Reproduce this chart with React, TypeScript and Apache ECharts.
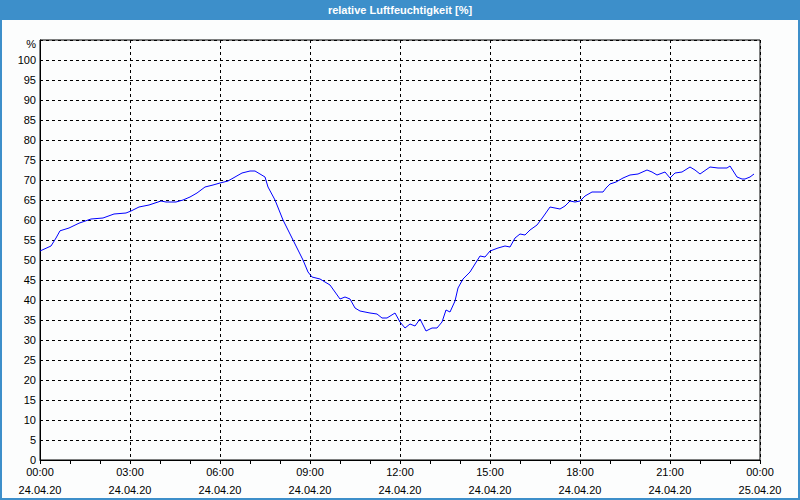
import React, { useEffect, useRef } from "react";
import * as echarts from "echarts";

const times = [
  "00:00", "00:22", "00:32", "00:40", "00:58", "01:18", "01:42", "02:06", "02:28", "02:52",
  "03:02", "03:18", "03:38", "04:02", "04:12", "04:32", "04:46", "05:00", "05:14", "05:30",
  "05:46", "06:00", "06:16", "06:30", "06:44", "07:00", "07:10", "07:20", "07:30", "07:36",
  "07:50", "08:06", "08:26", "08:46", "08:56", "09:04", "09:20", "09:40", "09:50", "10:00",
  "10:10", "10:20", "10:30", "10:40", "11:00", "11:14", "11:24", "11:34", "11:50", "12:00",
  "12:10", "12:20", "12:30", "12:40", "12:52", "13:04", "13:14", "13:24", "13:32", "13:40",
  "13:50", "13:56", "14:06", "14:20", "14:40", "14:50", "15:00", "15:16", "15:30", "15:40",
  "15:50", "16:00", "16:10", "16:20", "16:34", "16:46", "17:00", "17:10", "17:20", "17:30",
  "17:40", "17:50", "18:00", "18:10", "18:24", "18:46", "18:52", "19:00", "19:12", "19:26",
  "19:40", "19:56", "20:14", "20:24", "20:34", "20:50", "21:00", "21:10", "21:24", "21:40",
  "21:50", "22:00", "22:20", "22:36", "22:54", "23:00", "23:14", "23:24", "23:30", "23:40",
  "23:48"
];

const humidity = [
  52.25, 53.5, 55.5, 57.3, 58, 59.2, 60.25, 60.5, 61.5, 61.75,
  62.25, 63.25, 63.75, 64.75, 64.5, 64.5, 65, 65.75, 66.75, 68.25,
  68.75, 69.25, 69.75, 70.75, 71.75, 72.25, 72.25, 71.5, 70.75, 68.25,
  65, 60, 55, 50, 47, 45.75, 45.25, 43.75, 42, 40.25,
  40.75, 40.25, 38, 37.25, 36.75, 36.5, 35.5, 35.5, 36.75, 34.5,
  33, 34, 33.5, 35.25, 32.25, 33, 33, 34.5, 37.5, 37,
  39.75, 43, 45.25, 47, 51, 50.75, 52.25, 53, 53.5, 53.25,
  55.5, 56.5, 56.25, 57.5, 58.75, 60.75, 63.25, 63, 62.75, 63.5,
  64.75, 64.5, 64.75, 66, 67, 67, 68, 69, 69.5, 70.5,
  71.25, 71.5, 72.5, 72, 71.25, 72, 70.5, 71.75, 72, 73.25,
  72.5, 71.5, 73.25, 73, 73, 73.5, 70.75, 70.25, 70.25, 70.75,
  71.5
];

const xTickLabels = [
  "00:00\n24.04.20", "03:00\n24.04.20", "06:00\n24.04.20", "09:00\n24.04.20",
  "12:00\n24.04.20", "15:00\n24.04.20", "18:00\n24.04.20", "21:00\n24.04.20",
  "00:00\n25.04.20"
];

const titleText = "relative Luftfeuchtigkeit [%]";
const yUnit = "%";

const FONT = "'Liberation Sans Narrow', 'Liberation Sans', Arial, sans-serif";

export default function App() {
  const ref = useRef<HTMLDivElement>(null);
  useEffect(() => {
    document.body.style.margin = "0";
    const chart = echarts.init(ref.current!, null, { renderer: "svg" });
    const toMin = (s: string) => {
      const [h, m] = s.split(":").map(Number);
      return h * 60 + m;
    };
    const data = times.map((t, i) => [toMin(t), humidity[i]]);
    const dashed = { color: "#000", width: 1, type: [3, 3] as any };
    chart.setOption({
      animation: false,
      backgroundColor: "#fcfdfd",
      grid: {
        left: 40,
        right: 40,
        top: 40,
        bottom: 40,
        show: true,
        borderColor: "#000",
        borderWidth: 1,
        backgroundColor: "transparent",
      },
      xAxis: {
        type: "value",
        min: 0,
        max: 1440,
        interval: 180,
        axisLine: { show: true, lineStyle: { color: "#000", width: 1 } },
        axisTick: { show: true, length: 4, lineStyle: { color: "#000" } },
        minorTick: { show: true, splitNumber: 3, length: 4, lineStyle: { color: "#000" } },
        splitLine: { show: true, lineStyle: dashed },
        axisLabel: {
          formatter: (v: number) => xTickLabels[Math.round(v / 180)] ?? "",
          color: "#000",
          fontSize: 11,
          fontFamily: FONT,
          lineHeight: 18,
          margin: 3,
          showMaxLabel: true,
          showMinLabel: true,
        },
      },
      yAxis: {
        type: "value",
        min: 0,
        max: 105,
        interval: 5,
        axisLine: { show: true, lineStyle: { color: "#000", width: 1 } },
        axisTick: { show: false },
        splitLine: { show: true, lineStyle: dashed },
        axisLabel: {
          formatter: (v: number) => (v > 100 ? "" : String(v)),
          color: "#000",
          fontSize: 11,
          fontFamily: FONT,
          margin: 4,
        },
      },
      series: [
        {
          type: "line",
          data,
          showSymbol: false,
          symbol: "none",
          lineStyle: { color: "#0000ff", width: 1 },
          z: 5,
        },
      ],
      graphic: [
        {
          type: "rect",
          shape: { x: 0, y: 0, width: 800, height: 20 },
          style: { fill: "#3d8fca" },
          silent: true,
        },
        {
          type: "text",
          x: 400,
          y: 10,
          style: {
            text: titleText,
            fill: "#fff",
            font: "bold 11px 'Liberation Sans', Arial, sans-serif",
            textAlign: "center",
            textVerticalAlign: "middle",
          },
        },
        {
          type: "text",
          x: 36,
          y: 44,
          style: {
            text: yUnit,
            fill: "#000",
            font: "11px " + FONT,
            textAlign: "right",
            textVerticalAlign: "middle",
          },
        },
        {
          type: "rect",
          shape: { x: 0, y: 0, width: 800, height: 500 },
          style: { fill: "none", stroke: "#3d8fca", lineWidth: 4 },
          silent: true,
        },
      ],
    });
    return () => chart.dispose();
  }, []);
  return (
    <div
      ref={ref}
      style={{ position: "fixed", left: 0, top: 0, width: 800, height: 500 }}
    />
  );
}
